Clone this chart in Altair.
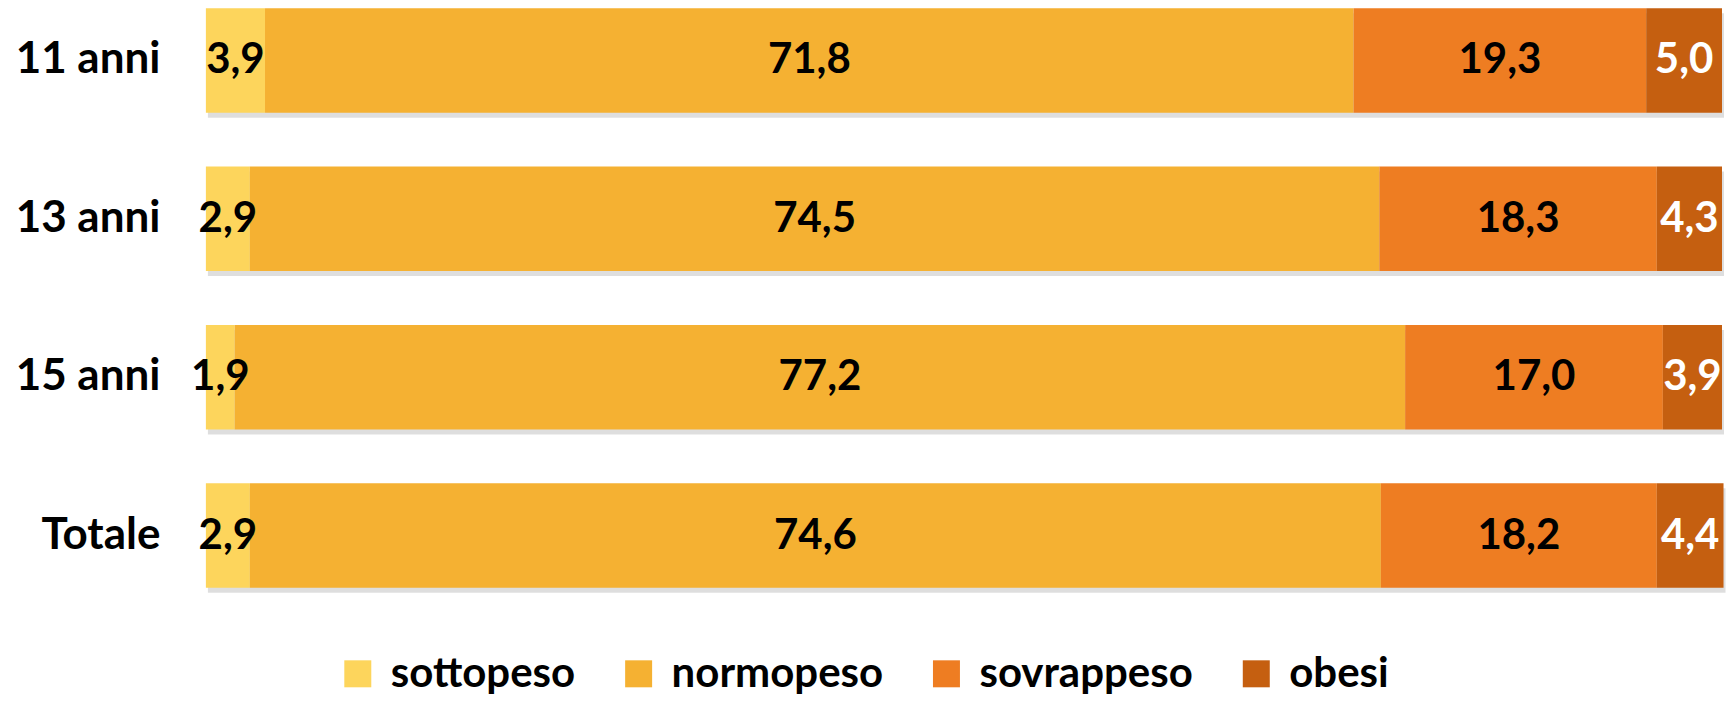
import altair as alt
import pandas as pd

categories = ["11 anni", "13 anni", "15 anni", "Totale"]
series = ["sottopeso", "normopeso", "sovrappeso", "obesi"]
sottopeso = [3.9, 2.9, 1.9, 2.9]
normopeso = [71.8, 74.5, 77.2, 74.6]
sovrappeso = [19.3, 18.3, 17.0, 18.2]
obesi = [5.0, 4.3, 3.9, 4.4]
colors = ["#FDD55C", "#F5B132", "#EE7D22", "#C55F10"]

values = {"sottopeso": sottopeso, "normopeso": normopeso,
          "sovrappeso": sovrappeso, "obesi": obesi}
rows = []
for i, c in enumerate(categories):
    for j, s in enumerate(series):
        rows.append({"category": c, "series": s, "value": values[s][i], "order": j})
df = pd.DataFrame(rows)

FONT = "Lato"
WEIGHT = "bold"

y_enc = alt.Y(
    "category:N", sort=categories,
    scale=alt.Scale(paddingInner=0.34, paddingOuter=0),
    axis=alt.Axis(title=None, ticks=False, domain=False, labelFont=FONT,
                  labelFontWeight=WEIGHT, labelFontSize=44, labelColor="black",
                  labelPadding=46, minExtent=198, maxExtent=198),
)
x_scale = alt.Scale(domain=[0, 100], nice=False, zero=True)

base = alt.Chart(df)

shadow = base.transform_aggregate(
    total="sum(value)", groupby=["category"]
).mark_bar(color="#000000", opacity=0.13, xOffset=2, yOffset=5).encode(
    x=alt.X("total:Q", scale=x_scale, axis=None),
    y=y_enc,
)

bars = base.mark_bar().encode(
    x=alt.X("value:Q", stack="zero", scale=x_scale, axis=None),
    y=y_enc,
    color=alt.Color(
        "series:N", sort=series,
        scale=alt.Scale(domain=series, range=colors),
        legend=alt.Legend(
            title=None, orient="none", direction="horizontal",
            legendX=131, legendY=645,
            symbolType="square", symbolSize=729, symbolStrokeWidth=0,
            symbolOpacity=1, labelFont=FONT, labelFontWeight=WEIGHT,
            labelFontSize=42, labelColor="black", labelOffset=12,
            labelLimit=0, columnPadding=42, padding=0,
        ),
    ),
    order=alt.Order("order:Q"),
)

labels = base.transform_stack(
    stack="value", groupby=["category"], as_=["x0", "x1"],
    sort=[alt.SortField("order", order="ascending")],
).transform_calculate(
    mid="(datum.x0 + datum.x1) / 2",
    label="replace(format(datum.value, '.1f'), '.', ',')",
).mark_text(font=FONT, fontWeight=WEIGHT, fontSize=42, baseline="middle",
            align="center").encode(
    x=alt.X("mid:Q", scale=x_scale, axis=None),
    y=y_enc,
    text="label:N",
    color=alt.condition(alt.datum.series == "obesi", alt.value("white"),
                        alt.value("black")),
)

chart = alt.layer(shadow, bars, labels).properties(
    width=1517, height=580, padding=0,
).configure_view(stroke=None)

chart.save("out.html", embed_options={"renderer": "svg", "actions": False})
